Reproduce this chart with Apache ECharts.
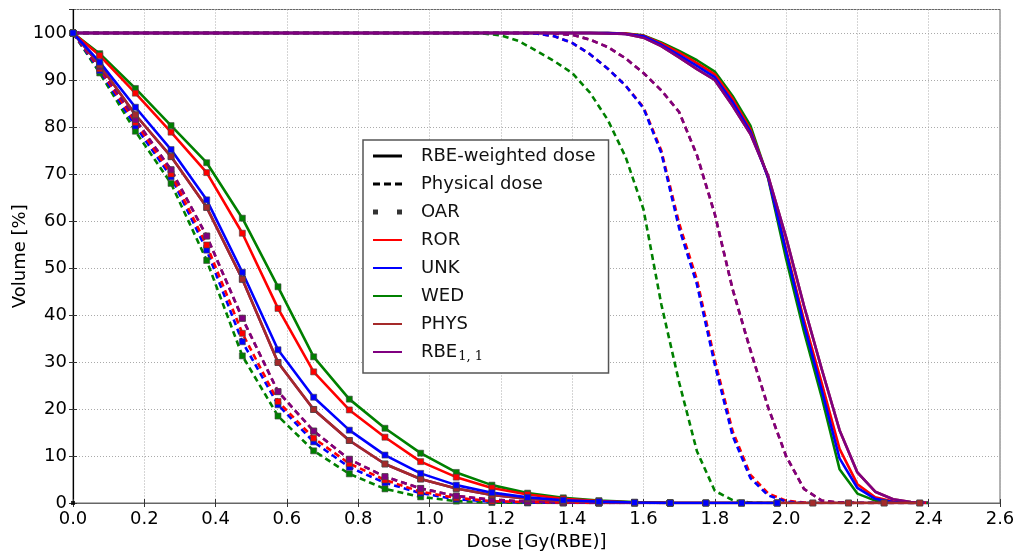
<!DOCTYPE html>
<html>
<head>
<meta charset="utf-8">
<script src="https://cdn.jsdelivr.net/npm/echarts@6/dist/echarts.min.js"></script>
<style>
  html, body { margin: 0; padding: 0; background: #fff; }
  #chart { width: 1017px; height: 552px; }
</style>
</head>
<body>
<div id="chart"></div>
<script>
/* ── Data ── */
// OAR bins (markers), dose in Gy(RBE)
var oarDose = [0, 0.075, 0.175, 0.275, 0.375, 0.475, 0.575, 0.675, 0.775, 0.875, 0.975, 1.075, 1.175,
  1.275, 1.375, 1.475, 1.575, 1.675, 1.775, 1.875, 1.975, 2.075, 2.175, 2.275, 2.375];

// OAR, RBE-weighted dose (solid)
var oarRbeROR  = [100, 95.2, 87.2, 78.9, 70.3, 57.4, 41.4, 27.9, 19.8, 14.0, 8.8, 5.5, 3.2, 1.8, 0.9, 0.4, 0.1, 0, 0, 0, 0];
var oarRbeUNK  = [100, 93.8, 84.2, 75.2, 64.5, 49.1, 32.6, 22.5, 15.5, 10.2, 6.3, 3.8, 2.2, 1.2, 0.6, 0.3, 0.1, 0, 0, 0, 0];
var oarRbeWED  = [100, 95.6, 88.2, 80.3, 72.4, 60.6, 46.0, 31.1, 22.1, 15.9, 10.6, 6.5, 3.8, 2.1, 1.1, 0.5, 0.2, 0, 0, 0, 0];
var oarRbePHYS = [100, 93.2, 82.6, 73.7, 62.9, 47.6, 29.9, 19.9, 13.3, 8.3, 5.1, 3.1, 1.7, 0.9, 0.4, 0.2, 0.1, 0, 0, 0, 0, 0, 0, 0, 0];
var oarRbeRBE11 = [100, 93.2, 82.6, 73.7, 62.9, 47.6, 29.9, 19.9, 13.3, 8.3, 5.1, 3.1, 1.7, 0.9, 0.4, 0.2, 0.1, 0, 0, 0, 0, 0, 0, 0, 0];

// OAR, physical dose (dashed)
var oarPhysROR  = [100, 92.4, 81.0, 70.0, 54.9, 36.1, 21.6, 13.8, 8.4, 4.9, 2.4, 1.1, 0.4, 0.2, 0.1, 0, 0, 0];
var oarPhysUNK  = [100, 92.0, 80.2, 69.4, 53.8, 34.3, 20.9, 13.0, 7.6, 4.3, 2.1, 0.8, 0.3, 0.1, 0, 0, 0, 0];
var oarPhysWED  = [100, 91.5, 79.1, 68.0, 51.6, 31.3, 18.5, 11.1, 6.2, 3.0, 1.3, 0.4, 0.1, 0, 0, 0, 0, 0];
var oarPhysPHYS = [100, 92.8, 81.6, 70.9, 56.8, 39.3, 23.7, 15.3, 9.3, 5.6, 3.1, 1.5, 0.7, 0.3, 0.1, 0, 0, 0];
var oarPhysRBE11 = [100, 92.8, 81.6, 70.9, 56.8, 39.3, 23.7, 15.3, 9.3, 5.6, 3.1, 1.5, 0.7, 0.3, 0.1, 0, 0, 0];

// Target dose grid
var ptvDose = [0, 1.10, 1.15, 1.20, 1.25, 1.30, 1.35, 1.40, 1.45, 1.50, 1.55, 1.60, 1.65, 1.70, 1.75,
  1.80, 1.85, 1.90, 1.95, 2.00, 2.05, 2.10, 2.15, 2.20, 2.25, 2.30, 2.35, 2.40];

// Target, RBE-weighted dose (solid)
var ptvRbeROR  = [100, 100, 100, 100, 100, 100, 100, 100, 100, 100, 99.9, 99.4, 97.8, 95.8, 93.6, 91.2, 86.0, 79.5, 69.2, 54.0, 39.0, 25.5, 11.5, 4.0, 1.2, 0.3, 0, 0];
var ptvRbeUNK  = [100, 100, 100, 100, 100, 100, 100, 100, 100, 100, 99.8, 99.3, 97.5, 95.3, 93.0, 90.6, 85.3, 79.0, 69.2, 53.5, 38.0, 24.0, 9.5, 3.2, 0.9, 0.2, 0, 0];
var ptvRbeWED  = [100, 100, 100, 100, 100, 100, 100, 100, 100, 100, 99.9, 99.5, 98.0, 96.2, 94.2, 91.8, 86.6, 80.3, 69.0, 52.0, 36.5, 22.5, 7.2, 2.0, 0.5, 0.1, 0, 0];
var ptvRbePHYS = [100, 100, 100, 100, 100, 100, 100, 100, 100, 99.9, 99.8, 99.0, 97.2, 94.8, 92.3, 90.0, 84.5, 78.5, 69.5, 56.5, 42.0, 28.5, 15.5, 6.5, 2.4, 0.8, 0.2, 0];
var ptvRbeRBE11 = [100, 100, 100, 100, 100, 100, 100, 100, 100, 99.9, 99.8, 99.0, 97.2, 94.8, 92.3, 90.0, 84.5, 78.5, 69.5, 56.5, 42.0, 28.5, 15.5, 6.5, 2.4, 0.8, 0.2, 0];

// Target, physical dose (dashed)
var ptvPhysROR  = [100, 100, 100, 100, 100, 99.9, 99.3, 97.9, 95.5, 92.4, 88.8, 84.2, 75.0, 59.5, 47.5, 30.5, 15.3, 6.0, 2.0, 0.5, 0.1, 0, 0, 0, 0, 0, 0, 0];
var ptvPhysUNK  = [100, 100, 100, 100, 100, 99.9, 99.3, 97.9, 95.5, 92.4, 88.8, 84.0, 74.5, 58.5, 46.5, 29.5, 14.3, 5.3, 1.6, 0.3, 0, 0, 0, 0, 0, 0, 0, 0];
var ptvPhysWED  = [100, 100, 99.9, 99.5, 98.3, 96.2, 94.0, 91.5, 87.3, 81.5, 73.6, 62.5, 42.3, 25.7, 11.0, 2.6, 0.6, 0.1, 0, 0, 0, 0, 0, 0, 0, 0, 0, 0];
var ptvPhysPHYS = [100, 100, 100, 100, 100, 100, 99.9, 99.6, 98.6, 97.0, 94.6, 91.5, 87.8, 83.2, 74.0, 61.5, 45.5, 32.5, 20.3, 10.0, 3.0, 0.5, 0.1, 0, 0, 0, 0, 0];
var ptvPhysRBE11 = [100, 100, 100, 100, 100, 100, 99.9, 99.6, 98.6, 97.0, 94.6, 91.5, 87.8, 83.2, 74.0, 61.5, 45.5, 32.5, 20.3, 10.0, 3.0, 0.5, 0.1, 0, 0, 0, 0, 0];

var models = ['ROR', 'UNK', 'WED', 'PHYS', 'RBE1,1'];
var colors = { 'ROR': '#ff0000', 'UNK': '#0000ff', 'WED': '#008000', 'PHYS': '#a52a2a', 'RBE1,1': '#800080' };

/* ── Helpers ── */
var FONT = 'DejaVu Sans';

function pairs(xs, ys) {
  return ys.map(function(y, i) { return [xs[i], y]; });
}

function curve(model, xs, ys, dashed, markers) {
  var c = colors[model];
  return {
    name: model, type: 'line', data: pairs(xs, ys),
    showSymbol: !!markers, showAllSymbol: true, symbol: 'rect', symbolSize: 6,
    itemStyle: { color: c, borderColor: '#444', borderWidth: 0.6 },
    lineStyle: { color: c, width: 2.6, type: dashed ? [6, 4] : 'solid' },
    smooth: false,
    emphasis: { disabled: true }, silent: true, animation: false
  };
}

/* ── Series (later = drawn on top) ── */
var series = [
  // legend-only dummies
  { name: 'RBE-weighted dose', type: 'line', data: [[0, 0]], showSymbol: false, itemStyle: { color: '#000' }, lineStyle: { color: '#000' }, silent: true },
  { name: 'Physical dose', type: 'line', data: [[0, 0]], showSymbol: false, itemStyle: { color: '#000' }, lineStyle: { color: '#000', type: [6, 4] }, silent: true },
  { name: 'OAR', type: 'scatter', data: [[0, 0]], symbol: 'rect', symbolSize: 4, itemStyle: { color: '#000' }, silent: true, z: 5 },

  // target, RBE-weighted
  curve('PHYS', ptvDose, ptvRbePHYS, false, false),
  curve('WED', ptvDose, ptvRbeWED, false, false),
  curve('ROR', ptvDose, ptvRbeROR, false, false),
  curve('UNK', ptvDose, ptvRbeUNK, false, false),
  curve('RBE1,1', ptvDose, ptvRbeRBE11, false, false),
  // target, physical
  curve('PHYS', ptvDose, ptvPhysPHYS, true, false),
  curve('WED', ptvDose, ptvPhysWED, true, false),
  curve('ROR', ptvDose, ptvPhysROR, true, false),
  curve('UNK', ptvDose, ptvPhysUNK, true, false),
  curve('RBE1,1', ptvDose, ptvPhysRBE11, true, false),
  // OAR, physical
  curve('PHYS', oarDose, oarPhysPHYS, true, true),
  curve('WED', oarDose, oarPhysWED, true, true),
  curve('UNK', oarDose, oarPhysUNK, true, true),
  curve('ROR', oarDose, oarPhysROR, true, true),
  curve('RBE1,1', oarDose, oarPhysRBE11, true, true),
  // OAR, RBE-weighted
  curve('RBE1,1', oarDose, oarRbeRBE11, false, true),
  curve('PHYS', oarDose, oarRbePHYS, false, true),
  curve('WED', oarDose, oarRbeWED, false, true),
  curve('ROR', oarDose, oarRbeROR, false, true),
  curve('UNK', oarDose, oarRbeUNK, false, true)
];

/* ── Legend ── */
var lineIcon = 'path://M0,0H29V3H0Z';
var dashIcon = 'path://M0,0H7V3H0Z M11,0H18V3H11Z M22,0H29V3H22Z';
var oarIcon = 'path://M0,0H5V5H0Z M24,0H29V5H24Z';

var legendData = [
  { name: 'RBE-weighted dose', icon: lineIcon, itemStyle: { color: '#000', borderWidth: 0 } },
  { name: 'Physical dose', icon: dashIcon, itemStyle: { color: '#000', borderWidth: 0 } },
  { name: 'OAR', icon: oarIcon, itemStyle: { color: '#000', borderWidth: 0 } }
].concat(models.map(function(m) {
  return { name: m, icon: 'path://M0,0H29V2H0Z', itemStyle: { color: colors[m], borderWidth: 0 } };
}));

/* ── Chart ── */
var ch = echarts.init(document.getElementById('chart'), null, { renderer: 'canvas' });

var axisText = { color: '#000', fontSize: 18, fontFamily: FONT };
var gridLine = { show: true, lineStyle: { color: '#aaa', width: 1, type: [1, 2] } };

ch.setOption({
  backgroundColor: '#fff',
  animation: false,
  grid: { left: 73, right: 17, top: 9.5, bottom: 49, containLabel: false, outerBoundsMode: 'none',
    show: true, borderColor: '#666', borderWidth: 1, backgroundColor: 'transparent' },
  legend: {
    data: legendData, orient: 'vertical', left: 363, top: 140,
    padding: [7, 13, 10, 10], itemWidth: 29, itemHeight: 14, itemGap: 10,
    backgroundColor: '#fff', borderColor: '#555', borderWidth: 1.5,
    selectedMode: false, symbolKeepAspect: true,
    textStyle: {
      color: '#111', fontSize: 18, fontFamily: FONT, padding: [0, 0, 0, 14],
      rich: {
        m: { fontSize: 18, fontFamily: FONT, color: '#111' },
        s: { fontSize: 13, fontFamily: 'DejaVu Serif', color: '#111', padding: [9, 0, 0, 1] }
      }
    },
    formatter: function(name) { return name === 'RBE1,1' ? '{m|RBE}{s|1, 1}' : name; }
  },
  xAxis: [
    { type: 'value', min: 0, max: 2.6, interval: 0.2,
      name: 'Dose [Gy(RBE)]', nameLocation: 'middle', nameGap: 27,
      nameTextStyle: { color: '#000', fontSize: 18, fontFamily: FONT },
      axisLine: { show: true, onZero: false, lineStyle: { color: '#666', width: 1 } },
      axisTick: { show: true, inside: true, length: 4, lineStyle: { color: '#333' } },
      axisLabel: Object.assign({ margin: 7, formatter: function(v) { return v.toFixed(1); } }, axisText),
      splitLine: gridLine },
    { type: 'value', min: 0, max: 2.6, interval: 0.2, position: 'top',
      axisLine: { show: false }, axisLabel: { show: false }, splitLine: { show: false },
      axisTick: { show: true, inside: true, length: 4, lineStyle: { color: '#333' } } }
  ],
  yAxis: [
    { type: 'value', min: 0, max: 105, interval: 10,
      name: 'Volume [%]', nameLocation: 'middle', nameGap: 44, nameMoveOverlap: false,
      nameTextStyle: { color: '#000', fontSize: 18, fontFamily: FONT },
      axisLine: { show: true, onZero: false, lineStyle: { color: '#000', width: 1.2 } },
      axisTick: { show: true, inside: true, length: 4, lineStyle: { color: '#333' } },
      axisLabel: Object.assign({ margin: 6, showMaxLabel: false }, axisText),
      splitLine: gridLine },
    { type: 'value', min: 0, max: 105, interval: 10, position: 'right',
      axisLine: { show: false }, axisLabel: { show: false }, splitLine: { show: false },
      axisTick: { show: true, inside: true, length: 4, lineStyle: { color: '#333' } } }
  ],
  series: series
});
</script>
</body>
</html>
